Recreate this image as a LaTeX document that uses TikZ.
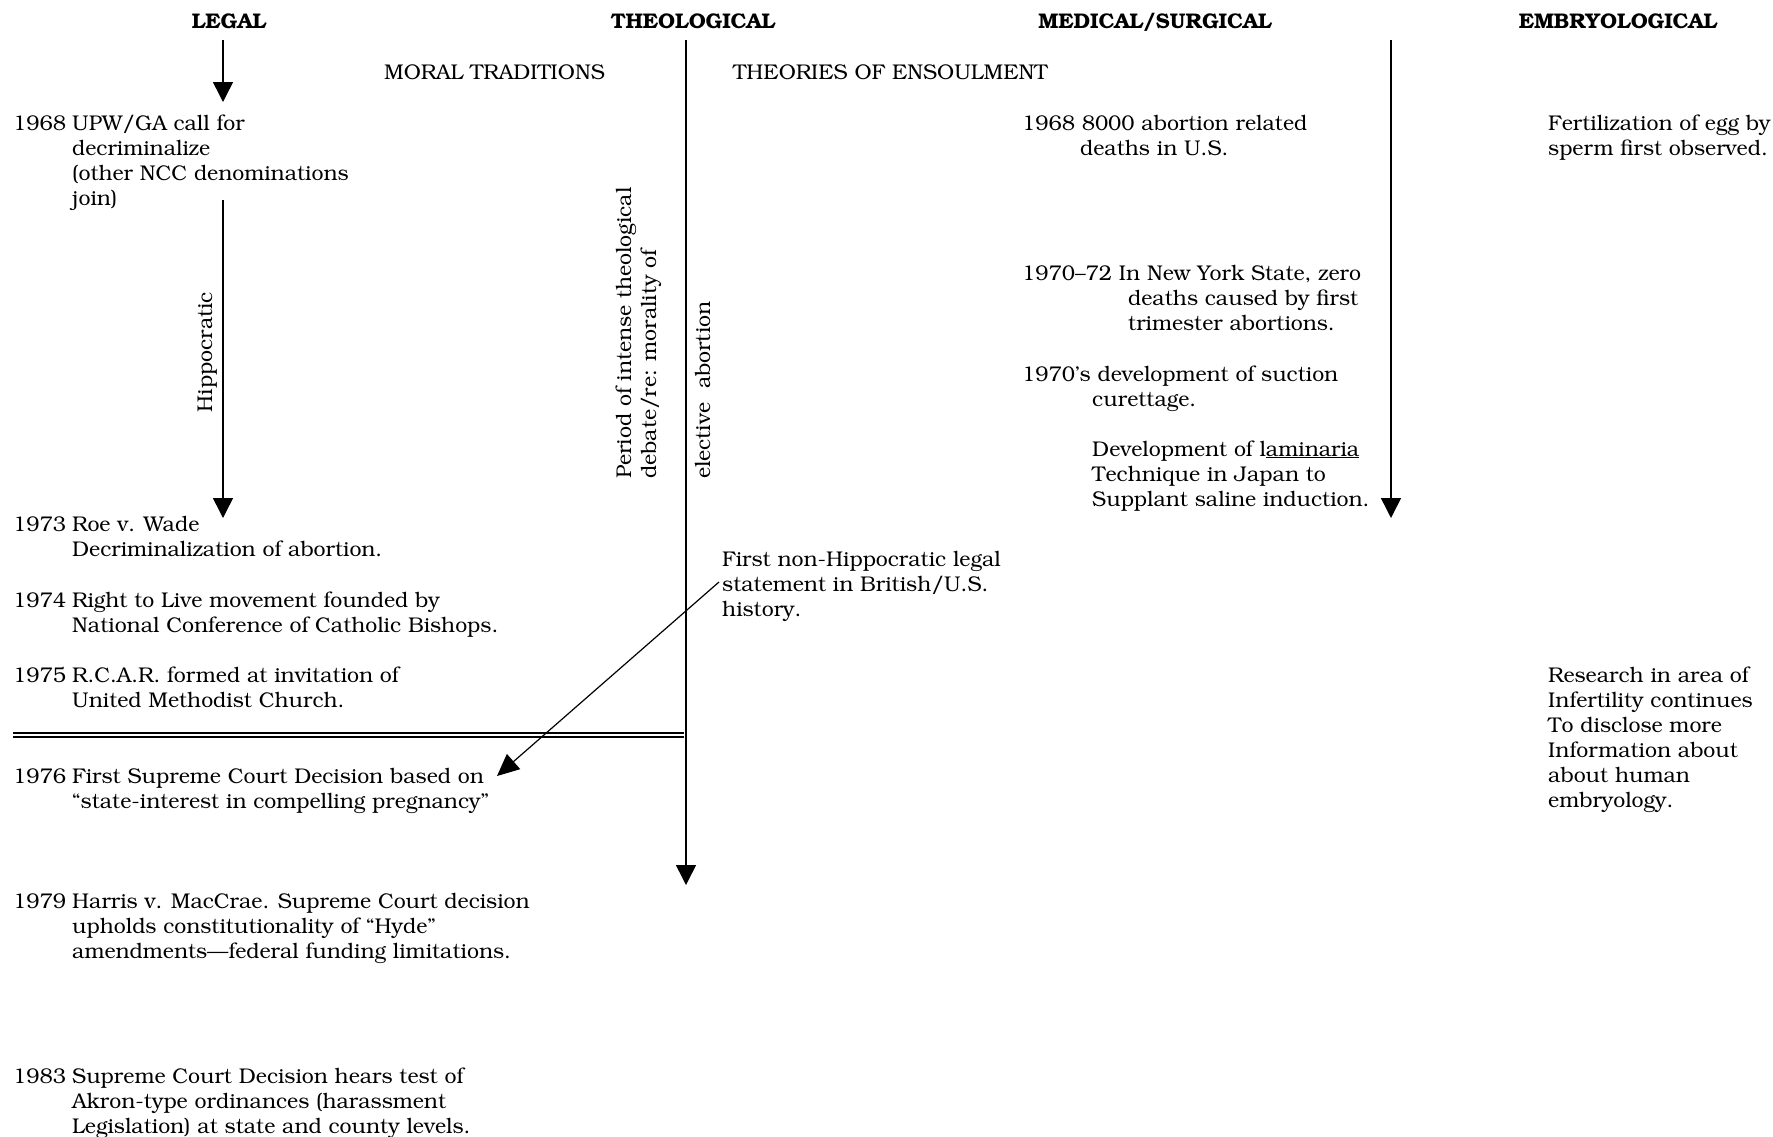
\documentclass[tikz,border=0pt]{standalone}
\usepackage[T1]{fontenc}
\usepackage{bookman}
\usetikzlibrary{arrows.meta}
\begin{document}
\begin{tikzpicture}[x=1pt,y=-1pt,
  txt/.style={anchor=base west, inner sep=0pt, font=\fontsize{21.3}{25}\selectfont},
  rtxt/.style={txt, rotate=90},
  hdr/.style={anchor=base, inner sep=0pt, font=\fontsize{21.2}{25}\selectfont\bfseries},
  arr/.style={line width=1.5pt, -{Triangle[width=20pt,length=20pt]}},
  ln/.style={line width=1.5pt},
  dbl/.style={line width=1.1pt}]
\useasboundingbox (0,0) rectangle (1773,1136);
% headers
\node[hdr] (hLegal) at (229,28) {LEGAL};
\node[hdr] (hTheo) at (693,28) {THEOLOGICAL};
\node[hdr] (hMed) at (1155,28) {MEDICAL/SURGICAL};
\node[hdr] (hEmb) at (1618,28) {EMBRYOLOGICAL};
\node[txt] (moral) at (384,79) {MORAL TRADITIONS};
\node[txt] (ensoul) at (733,79) {THEORIES OF ENSOULMENT};
% vertical arrows
\coordinate (lgA) at (223,40); \coordinate (lgB) at (223,102);
\coordinate (hpA) at (223,200); \coordinate (hpB) at (223,518);
\coordinate (thA) at (686,40); \coordinate (thB) at (686,885);
\coordinate (mdA) at (1391,40); \coordinate (mdB) at (1391,518);
\draw[arr] (lgA) -- (lgB);
\draw[arr] (hpA) -- (hpB);
\draw[arr] (thA) -- (thB);
\draw[arr] (mdA) -- (mdB);
\node[rtxt, anchor=center] (hippo) at (207,352) {Hippocratic};
% double line
\coordinate (dlA) at (13,733); \coordinate (dlB) at (684,733);
\coordinate (dlC) at (13,737); \coordinate (dlD) at (684,737);
\draw[dbl] (dlA) -- (dlB);
\draw[dbl] (dlC) -- (dlD);
% legal column
\node[txt] (y68) at (13,130) {1968};
\node[txt] (t68a) at (72,130) {UPW/GA call for};
\node[txt] (t68b) at (72,155) {decriminalize};
\node[txt] (t68c) at (72,180) {(other NCC denominations};
\node[txt] (t68d) at (72,205) {join)};
\node[txt] (y73) at (13,531) {1973};
\node[txt] (t73a) at (72,531) {Roe v. Wade};
\node[txt] (t73b) at (72,556) {Decriminalization of abortion.};
\node[txt] (y74) at (13,607) {1974};
\node[txt] (t74a) at (72,607) {Right to Live movement founded by};
\node[txt] (t74b) at (72,632) {National Conference of Catholic Bishops.};
\node[txt] (y75) at (13,682) {1975};
\node[txt] (t75a) at (72,682) {R.C.A.R. formed at invitation of};
\node[txt] (t75b) at (72,707) {United Methodist Church.};
\node[txt] (y76) at (13,783) {1976};
\node[txt] (t76a) at (72,783) {First Supreme Court Decision based on};
\node[txt] (t76b) at (72,808) {``state-interest in compelling pregnancy''};
\node[txt] (y79) at (13,908) {1979};
\node[txt] (t79a) at (72,908) {Harris v. MacCrae. Supreme Court decision};
\node[txt] (t79b) at (72,933) {upholds constitutionality of ``Hyde''};
\node[txt] (t79c) at (72,958) {amendments---federal funding limitations.};
\node[txt] (y83) at (13,1083) {1983};
\node[txt] (t83a) at (72,1083) {Supreme Court Decision hears test of};
\node[txt] (t83b) at (72,1108) {Akron-type ordinances (harassment};
\node[txt] (t83c) at (72,1133) {Legislation) at state and county levels.};
% theological
\node[rtxt] (per1) at (631,479) {Period of intense theological};
\node[rtxt] (per2) at (656,479) {debate/re: morality of};
\node[rtxt] (elec) at (710,479) {elective\ \ abortion};
\node[txt] (fn1) at (722,566) {First non-Hippocratic legal};
\node[txt] (fn2) at (722,591) {statement in British/U.S.};
\node[txt] (fn3) at (722,616) {history.};
\coordinate (dgA) at (719,582); \coordinate (dgB) at (497,776);
\draw[line width=1.2pt, -{Triangle[width=20pt,length=22pt]}] (dgA) -- (dgB);
% medical
\node[txt] (m68a) at (1022,130) {1968 8000 abortion related};
\node[txt] (m68b) at (1080,155) {deaths in U.S.};
\node[txt] (m70a) at (1022,280) {1970--72 In New York State, zero};
\node[txt] (m70b) at (1128,305) {deaths caused by first};
\node[txt] (m70c) at (1128,330) {trimester abortions.};
\node[txt] (m7sa) at (1022,381) {1970's development of suction};
\node[txt] (m7sb) at (1092,406) {curettage.};
\node[txt] (lam1) at (1092,456) {Development of l\underline{aminaria}};
\node[txt] (lam2) at (1092,481) {Technique in Japan to};
\node[txt] (lam3) at (1092,506) {Supplant saline induction.};
% embryological
\node[txt] (em1) at (1548,130) {Fertilization of egg by};
\node[txt] (em2) at (1548,155) {sperm first observed.};
\node[txt] (rs1) at (1548,682) {Research in area of};
\node[txt] (rs2) at (1548,707) {Infertility continues};
\node[txt] (rs3) at (1548,732) {To disclose more};
\node[txt] (rs4) at (1548,757) {Information about};
\node[txt] (rs5) at (1548,782) {about human};
\node[txt] (rs6) at (1548,807) {embryology.};
\end{tikzpicture}
\end{document}
